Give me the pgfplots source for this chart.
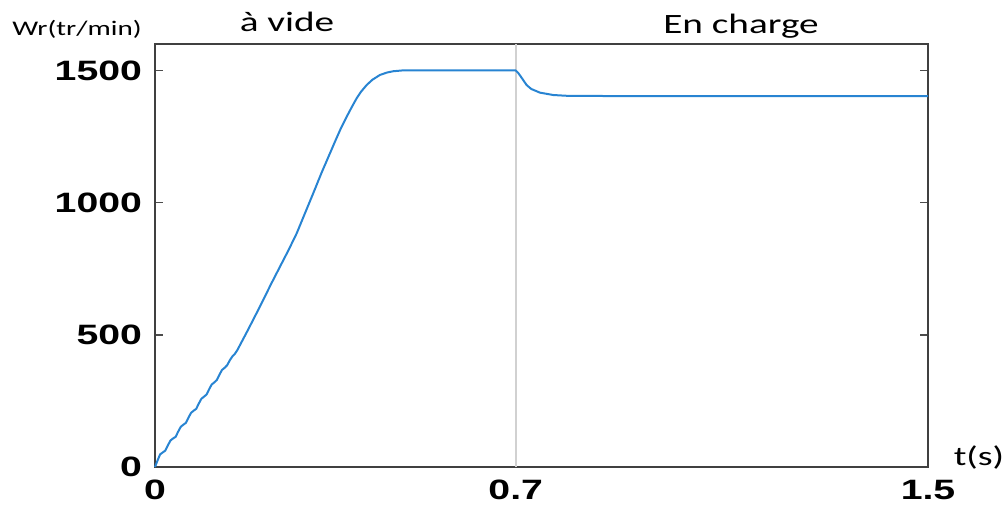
\documentclass[border=0pt]{standalone}
\usepackage{fontspec}
\setmainfont[FakeStretch=1.4]{Carlito}
\newfontfamily\tickfont[FakeStretch=1.4]{Liberation Sans}
\usepackage{pgfplots}
\pgfplotsset{compat=1.18}
\definecolor{mblue}{RGB}{40,132,210}
\begin{document}
\begin{tikzpicture}
\path[use as bounding box] (0,0) rectangle (504pt,255pt);
\begin{axis}[
  at={(77.5pt,21.5pt)}, anchor=south west,
  scale only axis, width=386.5pt, height=211.5pt,
  xmin=0, xmax=1.5, ymin=0, ymax=1600,
  xtick={0,0.7,1.5}, xticklabels={0,0.7,1.5},
  ytick={0,500,1000,1500}, yticklabels={0,500,1000,1500},
  tick pos=both, tick align=inside, major tick length=4pt,
  every tick/.style={black!70, line width=0.8pt},
  axis line style={black!75, line width=0.8pt},
  /pgf/number format/assume math mode=true,
  tick label style={font=\tickfont\fontsize{14}{14}\selectfont\bfseries},
  yticklabel style={xshift=-3pt},
  xticklabel style={yshift=-3pt},
  clip=false,
]
\addplot[draw=black!18, line width=1pt, forget plot] coordinates {(0.7,0) (0.7,1600)};
\addplot[mblue, line width=1pt, line join=round] coordinates {
(0,0) (0.005,25) (0.010,48) (0.015,55) (0.020,62) (0.025,82) (0.030,100)
(0.035,108) (0.040,114) (0.045,134) (0.050,152) (0.055,160) (0.060,167)
(0.065,187) (0.070,205) (0.075,213) (0.080,220) (0.085,240) (0.090,258)
(0.095,266) (0.100,274) (0.105,294) (0.110,312) (0.115,320) (0.120,329)
(0.125,349) (0.130,367) (0.135,375) (0.140,385) (0.145,403) (0.150,418)
(0.155,428) (0.160,443) (0.170,480) (0.180,517) (0.190,555) (0.200,593)
(0.210,632) (0.226,695) (0.2426,758) (0.259,820) (0.275,884) (0.29,955)
(0.3072,1036) (0.323,1112) (0.3396,1187) (0.35,1234) (0.36,1278) (0.372,1325)
(0.382,1362) (0.3914,1395) (0.40,1420) (0.4108,1445) (0.422,1465)
(0.4366,1483) (0.45,1492) (0.4625,1497) (0.48,1500) (0.7,1500)
(0.705,1490) (0.713,1468) (0.721,1445) (0.73,1430) (0.747,1416) (0.773,1407)
(0.8,1404) (0.9,1403) (1.5,1403)
};
\end{axis}
\node[anchor=base west, inner sep=0pt, font=\fontsize{10.4}{10.4}\selectfont] at (6pt,237pt) {Wr(tr/min)};
\node[anchor=base, inner sep=0pt, font=\fontsize{14}{14}\selectfont] at (143.5pt,239pt) {à vide};
\node[anchor=base, inner sep=0pt, font=\fontsize{14}{14}\selectfont] at (370.5pt,238pt) {En charge};
\node[anchor=base, inner sep=0pt, font=\fontsize{13.5}{13.5}\selectfont] at (489.5pt,22.5pt) {t(s)};
\end{tikzpicture}
\end{document}
